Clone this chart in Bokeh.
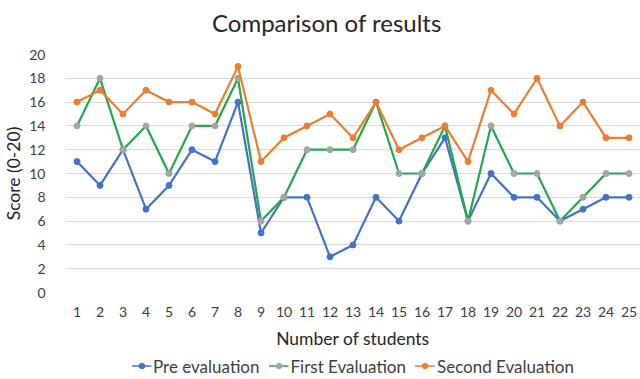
from bokeh.plotting import figure
from bokeh.models import Range1d, FixedTicker, Legend, LegendItem, Div
from bokeh.layouts import column
from bokeh.embed import file_html
from bokeh.resources import INLINE

students = list(range(1, 26))
pre = [11, 9, 12, 7, 9, 12, 11, 16, 5, 8, 8, 3, 4, 8, 6, 10, 13, 6, 10, 8, 8, 6, 7, 8, 8]
first = [14, 18, 12, 14, 10, 14, 14, 18, 6, 8, 12, 12, 12, 16, 10, 10, 14, 6, 14, 10, 10, 6, 8, 10, 10]
second = [16, 17, 15, 17, 16, 16, 15, 19, 11, 13, 14, 15, 13, 16, 12, 13, 14, 11, 17, 15, 18, 14, 16, 13, 13]
y_ticks = list(range(0, 21, 2))
title_text = "Comparison of results"

FONT = "Lato"

title_div = Div(
    text=('<div style="font-family:Lato;font-size:24px;color:#262626;line-height:28px;'
          'padding-top:9px;padding-left:212px;white-space:nowrap">' + title_text + '</div>'),
    width=640, height=44, margin=(0, 0, 0, 0))

p = figure(width=640, height=308, output_backend="svg", toolbar_location=None,
           x_range=Range1d(0.5, 25.5), y_range=Range1d(0, 20),
           min_border_left=62, min_border_right=0, min_border_top=10, min_border_bottom=60,
           margin=(0, 0, 0, 0))
p.outline_line_color = None
p.background_fill_color = "white"
p.border_fill_color = "white"

p.xaxis.ticker = FixedTicker(ticks=students)
p.yaxis.ticker = FixedTicker(ticks=y_ticks)
for ax in (p.xaxis, p.yaxis):
    ax.axis_line_color = None
    ax.major_tick_line_color = None
    ax.minor_tick_line_color = None
    ax.major_label_text_font = FONT
    ax.major_label_text_font_size = "14px"
    ax.major_label_text_color = "#404040"
    ax.axis_label_text_font = FONT
    ax.axis_label_text_font_size = "17.5px"
    ax.axis_label_text_font_style = "normal"
    ax.axis_label_text_color = "#262626"
p.xaxis.axis_label = "Number of students"
p.yaxis.axis_label = "Score (0-20)"
p.xaxis.major_label_standoff = 8
p.xaxis.axis_label_standoff = 8
p.yaxis.major_label_standoff = 14
p.yaxis.axis_label_standoff = 2

p.xgrid.grid_line_color = None
p.ygrid.grid_line_color = "#D9D9D9"
p.ygrid.grid_line_width = 1

series = [
    ("Pre evaluation", pre, "#4472C4", "#4472C4"),
    ("First Evaluation", first, "#22A84A", "#A5A5A5"),
    ("Second Evaluation", second, "#ED7D31", "#ED7D31"),
]

# legend strip (own small figure so the legend sits below the axis title)
lg = figure(width=640, height=27, output_backend="svg", toolbar_location=None,
            x_range=Range1d(100, 101), y_range=Range1d(100, 101),
            x_axis_location=None, y_axis_location=None,
            min_border_left=62, min_border_right=0, min_border_top=0, min_border_bottom=0,
            margin=(0, 0, 0, 0))
lg.outline_line_color = None
lg.grid.grid_line_color = None
lg.border_fill_color = "white"

items = []
for name, vals, lc, mc in series:
    p.line(students, vals, line_color=lc, line_width=2.2)
    p.scatter(students, vals, size=6, fill_color=mc, line_color=mc)
    l1 = lg.line(students, vals, line_color=lc, line_width=1.6)
    l2 = lg.scatter(students, vals, size=4, fill_color=mc, line_color=mc)
    items.append(LegendItem(label=name, renderers=[l1, l2]))

legend = Legend(items=items, orientation="horizontal", location="center",
                label_text_font=FONT, label_text_font_size="17px", label_text_color="#404040",
                glyph_width=20, glyph_height=14, label_standoff=2, spacing=9,
                padding=0, margin=0, border_line_color=None, background_fill_alpha=0)
lg.add_layout(legend, "center")

layout = column(title_div, p, lg, spacing=0, margin=(0, 0, 0, 0))
open("out.html", "w").write(file_html(layout, INLINE))
